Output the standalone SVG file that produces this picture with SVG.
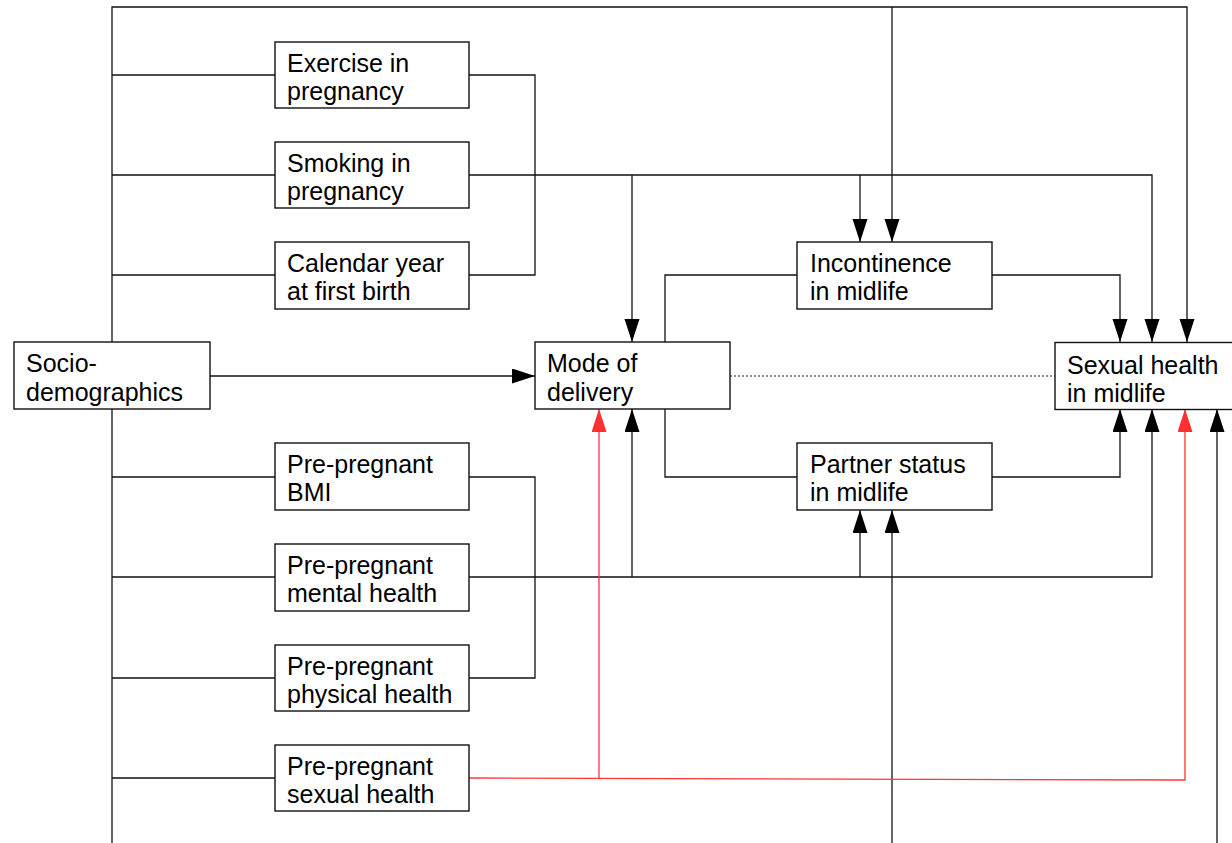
<svg xmlns="http://www.w3.org/2000/svg" width="1232" height="843" viewBox="0 0 1232 843">
<style>
.box{fill:#fff;stroke:#111;stroke-width:1.4}
.t{font-family:"Liberation Sans",Arial,sans-serif;font-size:25px;fill:#000}
.c{fill:none;stroke:#111;stroke-width:1.3}
.r{fill:none;stroke:#ff3535;stroke-width:1.3}
.d{fill:none;stroke:#222;stroke-width:1.2;stroke-dasharray:2,2}
</style>
<defs>
<marker id="a" markerUnits="userSpaceOnUse" markerWidth="24" markerHeight="16" refX="23" refY="7.5" orient="auto">
<path d="M0,0 L23,7.5 L0,15 z" fill="#000"/>
</marker>
<marker id="ar" markerUnits="userSpaceOnUse" markerWidth="24" markerHeight="16" refX="23" refY="7.5" orient="auto">
<path d="M0,0 L23,7.5 L0,15 z" fill="#ff3030"/>
</marker>
</defs>
<rect width="1232" height="843" fill="#fff"/>
<g id="connectors">
<path class="c" d="M112,342 V7 H1187 V342" marker-end="url(#a)"/>
<path class="c" d="M892,7 V242" marker-end="url(#a)"/>
<path class="c" d="M112,409 V843"/>
<path class="c" d="M112,75 H275 M112,175 H275 M112,275 H275 M112,477 H275 M112,577 H275 M112,678 H275 M112,778 H275"/>
<path class="c" d="M469,75 H535 V275 H469"/>
<path class="c" d="M469,175 H1152 V342" marker-end="url(#a)"/>
<path class="c" d="M632,175 V342" marker-end="url(#a)"/>
<path class="c" d="M860,175 V242" marker-end="url(#a)"/>
<path class="c" d="M210,376 H535" marker-end="url(#a)"/>
<path class="c" d="M797,275 H665 V342"/>
<path class="c" d="M665,409 V477 H797"/>
<path class="c" d="M992,275 H1120 V342" marker-end="url(#a)"/>
<path class="c" d="M992,477 H1120 V409" marker-end="url(#a)"/>
<path class="d" d="M730,376 H1055"/>
<path class="c" d="M469,477 H535 V678 H469"/>
<path class="c" d="M469,577 H1152 V409" marker-end="url(#a)"/>
<path class="c" d="M632,577 V409" marker-end="url(#a)"/>
<path class="c" d="M860,577 V510" marker-end="url(#a)"/>
<path class="c" d="M892,843 V510" marker-end="url(#a)"/>
<path class="c" d="M1217,843 V409" marker-end="url(#a)"/>
<path class="r" d="M469,778 L1185,780 V409" marker-end="url(#ar)"/>
<path class="r" d="M599,779 V409" marker-end="url(#ar)"/>
</g>
<g id="exercise"><rect class="box" x="275" y="42" width="194" height="66"/><text class="t" x="287" y="71.5">Exercise in</text><text class="t" x="287" y="100">pregnancy</text></g>
<g id="smoking"><rect class="box" x="275" y="142" width="194" height="66"/><text class="t" x="287" y="171.5">Smoking in</text><text class="t" x="287" y="200">pregnancy</text></g>
<g id="calendar"><rect class="box" x="275" y="242" width="194" height="67"/><text class="t" x="287" y="271.5">Calendar year</text><text class="t" x="287" y="300">at first birth</text></g>
<g id="socio"><rect class="box" x="14" y="342" width="196" height="67"/><text class="t" x="26" y="372">Socio-</text><text class="t" x="26" y="400.5">demographics</text></g>
<g id="mode"><rect class="box" x="535" y="342" width="195" height="67"/><text class="t" x="547" y="372">Mode of</text><text class="t" x="547" y="400.5">delivery</text></g>
<g id="incontinence"><rect class="box" x="797" y="242" width="195" height="67"/><text class="t" x="810" y="271.5">Incontinence</text><text class="t" x="810" y="300">in midlife</text></g>
<g id="sexual-midlife"><rect class="box" x="1055" y="342.5" width="200" height="67"/><text class="t" x="1067" y="374">Sexual health</text><text class="t" x="1067" y="402">in midlife</text></g>
<g id="partner"><rect class="box" x="797" y="443" width="195" height="67"/><text class="t" x="810" y="472.5">Partner status</text><text class="t" x="810" y="501">in midlife</text></g>
<g id="bmi"><rect class="box" x="275" y="443" width="194" height="67"/><text class="t" x="287" y="472.5">Pre-pregnant</text><text class="t" x="287" y="501">BMI</text></g>
<g id="mental"><rect class="box" x="275" y="544" width="194" height="67"/><text class="t" x="287" y="573.5">Pre-pregnant</text><text class="t" x="287" y="602">mental health</text></g>
<g id="physical"><rect class="box" x="275" y="645" width="194" height="66"/><text class="t" x="287" y="674.5">Pre-pregnant</text><text class="t" x="287" y="703">physical health</text></g>
<g id="sexual-pre"><rect class="box" x="275" y="745" width="194" height="66"/><text class="t" x="287" y="774.5">Pre-pregnant</text><text class="t" x="287" y="803">sexual health</text></g>
</svg>
